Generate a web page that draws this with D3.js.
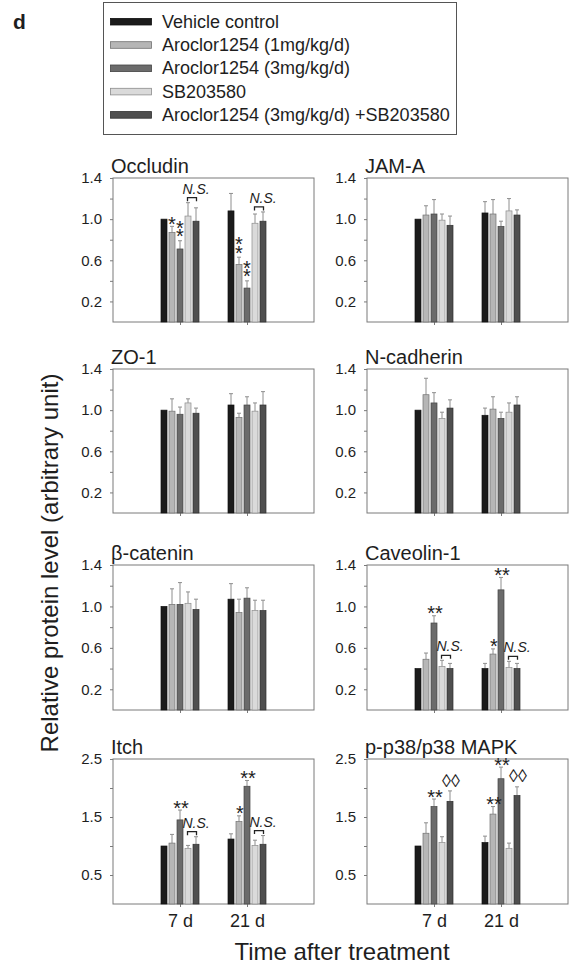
<!DOCTYPE html>
<html><head><meta charset="utf-8">
<script src="https://cdn.jsdelivr.net/npm/d3@7"></script>
<style>body{margin:0;background:#fff} svg{display:block}</style>
</head><body>
<svg id="chart" width="569" height="967"></svg>
<script>
// ---------------- DATA ----------------
const series = ["Vehicle control", "Aroclor1254 (1mg/kg/d)", "Aroclor1254 (3mg/kg/d)", "SB203580", "Aroclor1254 (3mg/kg/d) +SB203580"];
const timepoints = ["7 d", "21 d"];
const proteins = ["Occludin", "JAM-A", "ZO-1", "N-cadherin", "\u03b2-catenin", "Caveolin-1", "Itch", "p-p38/p38 MAPK"];

// means [7 d, 21 d] x 5 series; errors = upper SE
const occludinMean = [[1.00, 0.87, 0.71, 1.03, 0.98], [1.08, 0.56, 0.33, 0.96, 0.98]];
const occludinErr  = [[0.00, 0.06, 0.08, 0.13, 0.13], [0.17, 0.07, 0.07, 0.09, 0.09]];
const jamaMean = [[1.00, 1.04, 1.05, 0.99, 0.94], [1.06, 1.05, 0.93, 1.08, 1.04]];
const jamaErr  = [[0.00, 0.09, 0.14, 0.06, 0.09], [0.11, 0.14, 0.05, 0.12, 0.05]];
const zo1Mean = [[1.00, 0.99, 0.96, 1.07, 0.97], [1.05, 0.93, 1.05, 0.99, 1.05]];
const zo1Err  = [[0.00, 0.12, 0.07, 0.04, 0.05], [0.11, 0.04, 0.08, 0.08, 0.13]];
const ncadMean = [[1.00, 1.15, 1.07, 0.92, 1.02], [0.95, 1.01, 0.92, 0.98, 1.05]];
const ncadErr  = [[0.00, 0.16, 0.10, 0.06, 0.08], [0.07, 0.12, 0.06, 0.09, 0.08]];
const bcatMean = [[1.00, 1.02, 1.02, 1.03, 0.97], [1.07, 0.94, 1.08, 0.96, 0.96]];
const bcatErr  = [[0.00, 0.15, 0.21, 0.11, 0.10], [0.15, 0.13, 0.10, 0.10, 0.10]];
const cavMean = [[0.40, 0.49, 0.84, 0.42, 0.40], [0.40, 0.54, 1.16, 0.41, 0.40]];
const cavErr  = [[0.00, 0.06, 0.07, 0.06, 0.05], [0.05, 0.05, 0.12, 0.06, 0.05]];
const itchMean = [[1.00, 1.05, 1.45, 0.96, 1.03], [1.12, 1.42, 2.03, 1.01, 1.03]];
const itchErr  = [[0.00, 0.15, 0.17, 0.05, 0.13], [0.09, 0.10, 0.10, 0.09, 0.15]];
const p38Mean = [[1.00, 1.22, 1.68, 1.06, 1.77], [1.06, 1.55, 2.16, 0.96, 1.87]];
const p38Err  = [[0.00, 0.18, 0.13, 0.10, 0.18], [0.11, 0.13, 0.20, 0.09, 0.15]];

const allMeans = [occludinMean, jamaMean, zo1Mean, ncadMean, bcatMean, cavMean, itchMean, p38Mean];
const allErrs  = [occludinErr, jamaErr, zo1Err, ncadErr, bcatErr, cavErr, itchErr, p38Err];

const yMaxSmall = 1.4, yTicksSmall = [0.2, 0.4, 0.6, 0.8, 1.0, 1.2, 1.4], yLabelsSmall = [0.2, 0.6, 1.0, 1.4];
const yMaxLarge = 2.5, yTicksLarge = [0.5, 1.0, 1.5, 2.0, 2.5], yLabelsLarge = [0.5, 1.5, 2.5];

// significance marks: protein index, timepoint index, series index, mark, stacking
const sigMarks = [
  {p: 0, t: 0, s: 1, mark: "*",  dir: "v"},
  {p: 0, t: 0, s: 2, mark: "**", dir: "v"},
  {p: 0, t: 1, s: 1, mark: "**", dir: "v"},
  {p: 0, t: 1, s: 2, mark: "**", dir: "v"},
  {p: 5, t: 0, s: 2, mark: "**", dir: "h"},
  {p: 5, t: 1, s: 1, mark: "*",  dir: "h"},
  {p: 5, t: 1, s: 2, mark: "**", dir: "h"},
  {p: 6, t: 0, s: 2, mark: "**", dir: "h"},
  {p: 6, t: 1, s: 1, mark: "*",  dir: "h"},
  {p: 6, t: 1, s: 2, mark: "**", dir: "h"},
  {p: 7, t: 0, s: 2, mark: "**", dir: "h"},
  {p: 7, t: 0, s: 4, mark: "\u25ca\u25ca", dir: "d"},
  {p: 7, t: 1, s: 1, mark: "**", dir: "h"},
  {p: 7, t: 1, s: 2, mark: "**", dir: "h"},
  {p: 7, t: 1, s: 4, mark: "\u25ca\u25ca", dir: "d"}
];
// N.S. brackets between SB203580 and combination
const nsBrackets = [{p: 0, t: 0}, {p: 0, t: 1}, {p: 5, t: 0}, {p: 5, t: 1}, {p: 6, t: 0}, {p: 6, t: 1}];

// ---------------- STYLE / LAYOUT ----------------
const fills   = ["#1b1b1b", "#b6b6b6", "#6b6b6b", "#dadada", "#4f4f4f"];
const strokes = ["#111111", "#707070", "#444444", "#8c8c8c", "#2e2e2e"];
const FONT = "'Liberation Sans', Arial, Helvetica, sans-serif";
const axisCol = "#7a7a7a", textCol = "#1e1e1e", errCol = "#8e8e8e";
const colX = [113, 367], colW = 201;
const rowTop = [178, 369, 565, 759], rowBot = [322, 513, 710, 904];

const svg = d3.select("#chart").style("font-family", FONT);

// panel label
svg.append("text").attr("x", 13).attr("y", 29).attr("font-size", 21).attr("font-weight", "bold")
  .attr("fill", textCol).text("d");

// legend
const lg = svg.append("g");
lg.append("rect").attr("x", 103.5).attr("y", 2.5).attr("width", 353).attr("height", 132)
  .attr("fill", "none").attr("stroke", "#555").attr("stroke-width", 1);
series.forEach((s, i) => {
  const cy = 21.7 + i * 23.3;
  lg.append("rect").attr("x", 110.5).attr("y", cy - 3.3).attr("width", 41).attr("height", 6.6)
    .attr("fill", fills[i]).attr("stroke", strokes[i]).attr("stroke-width", 0.8);
  lg.append("text").attr("x", 162).attr("y", cy + 6).attr("font-size", 18).attr("fill", textCol).text(s);
});

const inner = d3.scaleBand().domain(d3.range(series.length)).range([-20, 20]).paddingInner(0.25).paddingOuter(0.125);

proteins.forEach((name, pi) => {
  const row = Math.floor(pi / 2), col = pi % 2;
  const x0 = colX[col], top = rowTop[row], bot = rowBot[row];
  const large = row === 3;
  const yMax = large ? yMaxLarge : yMaxSmall;
  const yTicks = large ? yTicksLarge : yTicksSmall;
  const yLabels = large ? yLabelsLarge : yLabelsSmall;
  const x = d3.scaleLinear().domain([0, 3]).range([x0, x0 + colW]);
  const y = d3.scaleLinear().domain([0, yMax]).range([bot, top]);
  const g = svg.append("g");
  const means = allMeans[pi], errs = allErrs[pi];

  // frame
  g.append("rect").attr("x", x0).attr("y", top).attr("width", colW).attr("height", bot - top)
    .attr("fill", "none").attr("stroke", axisCol).attr("stroke-width", 1);

  // y axis
  const ya = g.append("g").attr("transform", `translate(${x0},0)`)
    .call(d3.axisLeft(y).tickValues(yTicks).tickSize(3).tickSizeOuter(0).tickPadding(8)
      .tickFormat(d => yLabels.some(v => Math.abs(v - d) < 1e-9) ? d3.format(".1f")(d) : ""));
  ya.select(".domain").remove();
  ya.selectAll("line").attr("stroke", axisCol);
  ya.selectAll("text").attr("font-size", 15).attr("fill", textCol).attr("font-family", FONT);

  // x axis
  const xa = g.append("g").attr("transform", `translate(0,${bot})`)
    .call(d3.axisBottom(x).tickValues([1, 2]).tickSize(3).tickSizeOuter(0).tickPadding(7)
      .tickFormat((d, i) => large ? timepoints[i] : ""));
  xa.select(".domain").remove();
  xa.selectAll("line").attr("stroke", axisCol);
  xa.selectAll("text").attr("font-size", 18).attr("fill", textCol).attr("font-family", FONT);

  // title
  g.append("text").attr("x", x0 - 2).attr("y", top - 5).attr("font-size", 20).attr("fill", textCol).text(name);

  // bars + error bars
  timepoints.forEach((tp, ti) => {
    means[ti].forEach((v, si) => {
      const cx = x(ti + 1) + inner(si) + inner.bandwidth() / 2;
      const e = errs[ti][si];
      if (e > 0) {
        g.append("line").attr("x1", cx).attr("x2", cx).attr("y1", y(v)).attr("y2", y(v + e))
          .attr("stroke", errCol).attr("stroke-width", 1);
        g.append("line").attr("x1", cx - 2).attr("x2", cx + 2).attr("y1", y(v + e)).attr("y2", y(v + e))
          .attr("stroke", errCol).attr("stroke-width", 1);
      }
      g.append("rect").attr("x", x(ti + 1) + inner(si)).attr("y", y(v))
        .attr("width", inner.bandwidth()).attr("height", y(0) - y(v))
        .attr("fill", fills[si]).attr("stroke", strokes[si]).attr("stroke-width", 0.7);
    });
  });

  // significance marks: vertically stacked ones of one group share one text element
  const marks = sigMarks.filter(m => m.p === pi);
  timepoints.forEach((tp, ti) => {
    const vm = marks.filter(m => m.t === ti && m.dir === "v");
    if (vm.length) {
      const txt = g.append("text").attr("text-anchor", "middle").attr("font-size", 20).attr("fill", textCol);
      vm.forEach(m => {
        const yt = y(means[m.t][m.s] + errs[m.t][m.s]);
        const cx = x(m.t + 1) + inner(m.s) + inner.bandwidth() / 2;
        const n = m.mark.length;
        for (let k = 0; k < n; k++) {
          const c = n === 1 ? yt - 7 : yt - 9 - k * 8.5;
          txt.append("tspan").attr("x", cx).attr("y", c + 11.6).text("*");
        }
      });
    }
  });
  marks.filter(m => m.dir !== "v").forEach(m => {
    const yt = y(means[m.t][m.s] + errs[m.t][m.s]);
    const cx = x(m.t + 1) + inner(m.s) + inner.bandwidth() / 2;
    if (m.dir === "h") {
      g.append("text").attr("x", cx + 1).attr("y", yt - 7 + 11.6).attr("text-anchor", "middle")
        .attr("font-size", 20).attr("fill", textCol).text(m.mark);
    } else {
      g.append("text").attr("x", cx + 1).attr("y", yt - 11 + 6.6).attr("text-anchor", "middle")
        .attr("font-size", 18).attr("fill", textCol).text(m.mark);
    }
  });

  // N.S. brackets
  nsBrackets.filter(b => b.p === pi).forEach(b => {
    const xa1 = x(b.t + 1) + inner(3) + inner.bandwidth() / 2;
    const xa2 = x(b.t + 1) + inner(4) + inner.bandwidth() / 2;
    const yTop = Math.min(y(means[b.t][3] + errs[b.t][3]), y(means[b.t][4] + errs[b.t][4])) - 5;
    g.append("path").attr("d", `M${xa1 - 0.5},${yTop + 3.5}V${yTop}H${xa2 + 0.5}V${yTop + 3.5}`)
      .attr("fill", "none").attr("stroke", "#222").attr("stroke-width", 1.3);
    g.append("text").attr("x", (xa1 + xa2) / 2 + 4).attr("y", yTop - 4).attr("text-anchor", "middle")
      .attr("font-size", 14).attr("font-style", "italic").attr("fill", textCol).text("N.S.");
  });
});

// axis titles
svg.append("text").attr("transform", "translate(58,563) rotate(-90)").attr("text-anchor", "middle")
  .attr("font-size", 24).attr("fill", textCol).text("Relative protein level (arbitrary unit)");
svg.append("text").attr("x", 342).attr("y", 960).attr("text-anchor", "middle")
  .attr("font-size", 24).attr("fill", textCol).text("Time after treatment");
</script>
</body></html>
